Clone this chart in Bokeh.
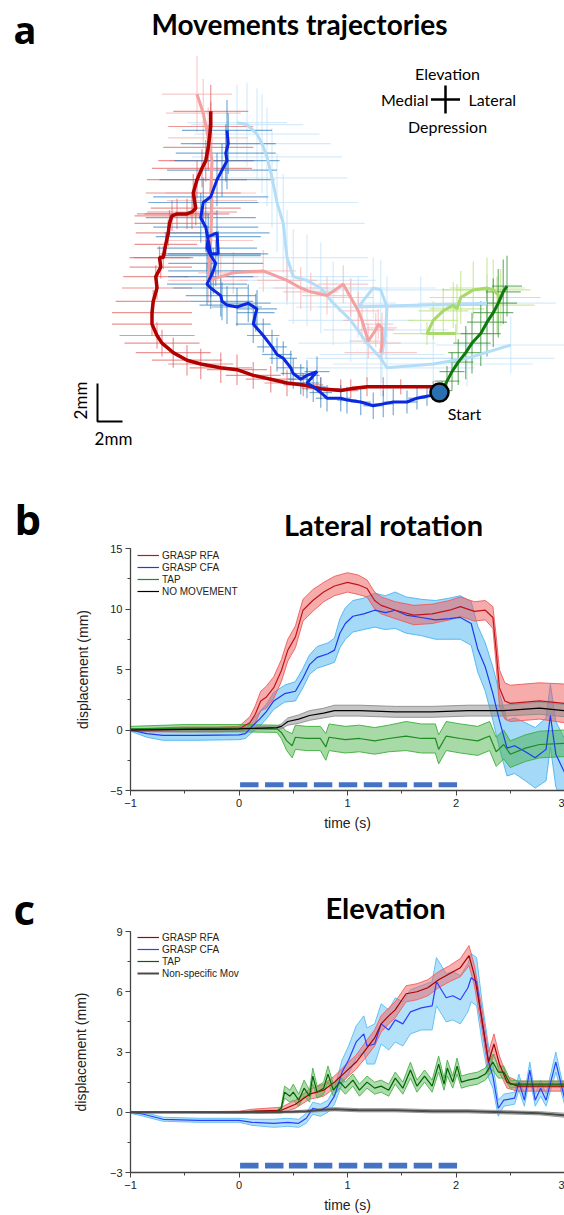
import numpy as np
from math import pi
from bokeh.plotting import figure
from bokeh.models import Label, Legend, LegendItem, SingleIntervalTicker, Range1d
from bokeh.layouts import column
from bokeh.embed import file_html
from bokeh.resources import INLINE

# ================= Panel a : trajectories (mm, origin = start) =================
rfa_dark_x = [-0.5,-3.1,-4.5,-5.8,-7.1,-7.9,-9.5,-10.9,-12.2,-13.5,-14.9,-16.2,-17.5,-19.1,-20.2,-21.3,-22.2,-22.6,-23.0,-23.0,-22.9,-22.6,-22.7,-22.3,-22.4,-22.1,-21.9,-21.7,-21.6,-21.4,-21.0,-20.2,-19.8,-19.5,-19.7,-19.4,-19.0,-18.7,-18.5,-18.3,-18.3]
rfa_dark_y = [0.3,0.3,0.3,0.3,0.2,0.1,0.2,0.4,0.5,0.7,0.9,1.2,1.3,1.5,1.7,2.1,2.6,3.0,3.6,4.2,4.8,5.5,6.1,6.6,7.1,7.1,7.8,8.4,8.9,9.3,9.4,9.4,9.5,9.7,10.5,11.2,11.8,12.2,12.9,14.0,14.8]
rfa_dark_xe = [0.4,0.8,1.0,1.2,1.3,1.4,1.5,1.6,1.8,2.0,2.2,2.4,2.5,2.6,2.8,3.0,3.0,3.0,3.2,3.2,3.0,2.8,2.6,2.5,2.4,2.4,2.5,2.6,2.8,3.0,3.2,3.4,3.6,3.6,3.8,4.0,4.0,3.8,3.6,3.4,3.0]
rfa_dark_ye = [0.3,0.4,0.5,0.5,0.5,0.6,0.6,0.6,0.7,0.7,0.7,0.8,0.8,0.8,0.8,0.8,0.7,0.7,0.6,0.6,0.6,0.6,0.6,0.6,0.6,0.6,0.6,0.7,0.7,0.8,0.8,0.8,0.9,0.9,1.0,1.0,1.0,1.1,1.2,1.3,1.4]

cfa_dark_x = [-0.2,-1.0,-1.8,-2.6,-3.7,-4.5,-5.3,-6.3,-7.4,-7.9,-9.0,-9.5,-10.1,-10.6,-9.8,-10.6,-11.1,-11.7,-11.9,-12.5,-13.0,-13.4,-14.1,-14.9,-14.7,-14.6,-15.3,-16.2,-17.0,-17.4,-17.5,-18.3,-18.6,-18.3,-18.1,-17.9,-18.3,-18.6,-18.5,-17.8,-17.7,-18.3,-18.7,-19.1,-18.9,-18.3,-17.8,-17.4,-17.0,-17.1,-16.9,-17.0]
cfa_dark_y = [-0.1,-0.2,-0.3,-0.5,-0.5,-0.6,-0.7,-0.5,-0.4,-0.3,-0.3,0.0,0.3,0.5,1.1,0.9,0.7,1.0,1.3,1.8,2.0,2.4,3.0,3.6,4.2,4.4,4.7,4.5,4.6,4.8,5.1,5.5,5.7,6.1,6.4,6.8,7.2,7.6,8.2,8.4,7.3,7.3,8.7,9.2,10.0,10.3,11.2,11.7,12.2,12.6,13.1,13.8]
cfa_dark_xe = [0.4,0.6,0.7,0.8,0.8,0.8,0.8,0.8,0.8,0.8,0.9,0.9,1.0,1.0,1.0,1.0,1.0,1.0,1.1,1.1,1.2,1.2,1.3,1.4,1.5,1.6,1.8,2.0,2.2,2.5,2.8,3.0,3.2,3.4,3.6,3.8,4.0,4.0,4.2,4.2,4.0,4.0,4.2,4.4,4.4,4.6,4.6,4.4,4.2,4.0,3.8,3.6]
cfa_dark_ye = [0.4,0.5,0.6,0.6,0.7,0.7,0.7,0.7,0.7,0.7,0.7,0.8,0.8,0.8,0.8,0.8,0.8,0.8,0.9,0.9,0.9,0.9,0.9,1.0,1.0,1.0,1.0,1.0,1.0,1.0,1.1,1.1,1.1,1.1,1.2,1.2,1.2,1.2,1.2,1.2,1.2,1.2,1.3,1.3,1.3,1.4,1.4,1.4,1.5,1.5,1.6,1.6]

rfa_light_x = [-4.7,-4.6,-4.6,-4.9,-5.1,-5.7,-6.2,-6.5,-7.1,-7.7,-9.0,-10.3,-11.1,-12.2,-14.1,-16.5,-17.5,-18.5,-18.3,-18.2,-18.3,-18.2,-18.5,-18.9,-19.4]
rfa_light_y = [2.1,2.6,3.4,3.6,3.3,2.7,3.8,4.3,5.0,5.7,5.1,5.3,5.5,5.9,6.4,6.3,6.1,5.9,8.0,10.1,10.5,12.2,13.4,14.7,15.7]
rfa_light_xe = [2.9,1.5,1.2,1.2,1.5,1.5,1.5,1.6,1.8,2.0,2.0,2.2,2.2,2.4,2.6,2.8,3.0,3.2,3.4,3.6,3.6,3.4,3.2,3.0,2.8]
rfa_light_ye = [0.5,0.8,0.8,0.8,0.9,0.9,1.0,1.0,1.0,1.0,1.0,1.0,1.1,1.1,1.1,1.1,1.2,1.2,1.3,1.3,1.4,1.5,1.6,1.8,2.0]

cfa_light_x = [5.7,2.2,-0.5,-4.2,-4.7,-5.8,-7.1,-8.5,-9.5,-10.6,-11.7,-12.2,-12.5,-13.0,-13.4,-13.8,-14.2,-14.6,-15.4,-16.2]
cfa_light_y = [2.5,1.8,1.5,1.3,1.8,2.6,3.8,4.7,5.5,5.9,6.1,7.1,8.9,10.0,11.3,12.4,13.1,13.6,14.1,14.2]
cfa_light_xe = [6.0,7.0,8.0,7.0,6.0,5.5,5.0,5.0,5.0,5.5,6.0,6.5,6.5,6.5,6.0,6.0,5.5,5.0,4.5,4.0]
cfa_light_ye = [1.5,1.5,1.8,1.8,2.0,2.0,2.2,2.2,2.4,2.4,2.5,2.5,2.6,2.6,2.6,2.6,2.6,2.4,2.2,2.0]
cfa_light2_x = [-4.6,-4.3,-4.2,-4.7,-5.3,-6.5,-1.5,3.8]
cfa_light2_y = [2.0,3.3,4.5,5.4,5.5,4.5,4.6,4.7]
cfa_light2_xe = [5.0,5.0,5.5,5.5,5.0,5.0,5.0,5.5]
cfa_light2_ye = [1.5,1.5,1.6,1.6,1.6,1.6,1.5,1.5]

tap_light_x = [1.3,-1.0,-0.5,0.3,1.1,1.4,1.7,2.7,3.8,4.3,4.9,4.6]
tap_light_y = [3.1,3.1,3.8,4.3,4.6,4.4,5.0,5.4,5.5,5.4,5.0,4.6]
tap_light_xe = [2.8,2.7,2.0,2.0,2.2,2.2,2.5,2.5,3.0,3.0,3.2,3.0]
tap_light_ye = [0.5,0.6,1.0,1.2,1.2,1.3,1.4,1.5,1.6,1.6,1.5,1.5]

tap_dark_x = [0.2,0.6,1.0,1.5,2.1,2.6,3.3,3.8,4.3,4.7,5.1,5.4]
tap_dark_y = [0.1,0.6,1.1,1.6,2.1,2.6,3.1,3.7,4.2,4.7,5.3,5.6]
tap_dark_xe = [0.8,1.0,1.0,1.2,1.4,1.5,1.6,1.6,1.6,1.5,1.4,1.2]
tap_dark_ye = [0.5,0.8,1.0,1.2,1.4,1.6,1.7,1.8,1.8,1.8,1.7,1.6]

scale_bar_mm = 2.0

# ================= Panel b : lateral rotation =================
b_rfa_t = [-1.0,-0.8,-0.5,-0.2,0.0,0.1,0.15,0.2,0.25,0.32,0.39,0.45,0.52,0.59,0.68,0.78,0.88,1.0,1.1,1.18,1.25,1.31,1.44,1.61,1.78,1.94,2.04,2.17,2.27,2.34,2.37,2.40,2.45,2.5,2.77,3.0]
b_rfa_m = [0.0,0.0,0.05,0.05,0.1,0.6,1.3,2.4,2.7,3.5,4.9,6.6,7.7,9.9,10.7,11.4,11.9,12.2,12.0,11.7,10.7,10.3,9.9,9.5,9.6,9.9,10.2,9.8,9.9,9.3,6.6,3.5,2.4,2.2,2.4,2.2]
b_rfa_e = [0.1,0.15,0.2,0.2,0.2,0.5,0.7,0.8,0.9,0.9,0.9,0.9,0.9,0.9,0.9,0.8,0.8,0.8,0.8,0.7,0.7,0.7,0.7,0.8,0.8,0.8,0.8,0.8,0.8,0.9,1.2,1.5,1.5,1.5,1.5,1.6]

b_cfa_t = [-1.0,-0.85,-0.7,-0.4,0.0,0.06,0.12,0.19,0.25,0.32,0.42,0.52,0.59,0.65,0.72,0.82,0.88,0.93,0.98,1.05,1.15,1.25,1.35,1.44,1.54,1.68,1.81,1.94,2.04,2.14,2.20,2.27,2.34,2.40,2.47,2.54,2.64,2.73,2.83,2.87,2.92,3.0]
b_cfa_m = [0.0,-0.3,-0.45,-0.45,-0.4,-0.3,0.3,0.9,1.5,2.4,3.0,3.2,4.3,5.4,6.0,6.3,6.6,8.0,8.8,9.4,9.6,9.9,9.7,9.9,9.5,9.3,9.1,9.2,9.3,8.8,6.7,5.2,3.0,0.8,-1.5,-1.3,-1.8,-2.3,-1.6,1.2,-2.0,-3.5]
b_cfa_e = [0.1,0.3,0.4,0.4,0.4,0.4,0.5,0.6,0.6,0.7,0.7,0.8,0.8,0.8,0.9,0.9,1.0,1.2,1.3,1.3,1.3,1.4,1.4,1.5,1.5,1.5,1.6,1.7,1.8,1.8,1.9,2.0,2.2,2.3,2.3,2.3,2.4,2.5,2.6,2.6,2.7,2.8]

b_tap_t = [-1.0,-0.5,0.0,0.35,0.39,0.44,0.49,0.52,0.62,0.75,0.80,0.83,0.98,1.11,1.25,1.38,1.54,1.68,1.81,1.84,1.91,2.04,2.20,2.31,2.37,2.44,2.50,2.64,2.77,3.0]
b_tap_m = [0.1,0.15,0.15,0.1,-0.2,-0.9,-1.3,-0.6,-0.7,-0.7,-1.4,-0.6,-0.8,-0.7,-0.9,-0.7,-0.5,-0.7,-0.7,-1.6,-0.5,-0.7,-0.9,-0.5,-1.8,-1.2,-2.0,-1.5,-1.2,-1.1]
b_tap_e = [0.2,0.3,0.3,0.3,0.5,0.8,1.0,1.0,1.0,1.0,1.1,1.1,1.1,1.1,1.1,1.1,1.2,1.2,1.2,1.2,1.2,1.2,1.2,1.2,1.2,1.2,1.1,1.1,1.1,1.1]

b_nm_t = [-1.0,-0.5,0.0,0.35,0.39,0.45,0.55,0.65,0.78,0.88,1.11,1.44,1.78,2.11,2.44,2.77,3.0]
b_nm_m = [0.0,0.05,0.1,0.2,0.3,0.7,0.9,1.2,1.4,1.6,1.6,1.5,1.5,1.6,1.6,1.8,1.6]
b_nm_e = [0.05,0.1,0.1,0.15,0.2,0.3,0.35,0.4,0.4,0.45,0.45,0.45,0.45,0.45,0.45,0.5,0.5]

# ================= Panel c : elevation =================
c_rfa_t = [-1.0,-0.5,0.0,0.12,0.39,0.52,0.65,0.78,0.88,0.98,1.08,1.18,1.25,1.31,1.38,1.44,1.54,1.64,1.74,1.84,1.94,2.04,2.12,2.17,2.24,2.30,2.35,2.40,2.47,2.57,3.0]
c_rfa_m = [0.0,0.0,0.0,0.05,0.1,0.4,0.9,1.1,1.5,2.0,2.5,3.2,3.7,4.4,4.8,5.1,5.9,6.0,6.2,6.6,6.9,7.2,7.8,6.8,4.6,2.5,3.4,2.4,1.5,1.3,1.3]
c_rfa_e = [0.02,0.02,0.05,0.1,0.15,0.2,0.25,0.3,0.3,0.35,0.35,0.4,0.4,0.4,0.4,0.4,0.4,0.4,0.4,0.4,0.4,0.45,0.5,0.5,0.5,0.5,0.5,0.4,0.3,0.25,0.25]

c_cfa_t = [-1.0,-0.88,-0.7,-0.37,0.0,0.12,0.32,0.45,0.55,0.62,0.68,0.75,0.82,0.88,0.95,1.01,1.08,1.15,1.18,1.25,1.31,1.38,1.44,1.51,1.58,1.68,1.78,1.82,1.91,1.97,2.04,2.11,2.14,2.19,2.24,2.30,2.34,2.39,2.44,2.54,2.58,2.63,2.68,2.73,2.78,2.83,2.92,3.0]
c_cfa_m = [0.0,-0.1,-0.35,-0.4,-0.4,-0.5,-0.55,-0.5,-0.55,-0.3,0.2,0.1,0.3,0.8,2.0,2.6,3.5,3.9,3.3,3.4,4.4,4.1,4.6,4.4,5.0,5.2,5.3,6.5,5.7,5.8,5.6,6.2,6.7,6.5,4.5,2.5,1.8,0.2,0.6,0.7,1.5,0.6,2.1,0.6,1.2,0.6,2.5,0.7]
c_cfa_e = [0.05,0.1,0.1,0.1,0.1,0.15,0.2,0.2,0.2,0.25,0.3,0.3,0.3,0.4,0.6,0.7,0.8,0.9,0.9,1.0,1.0,1.0,1.1,1.1,1.1,1.1,1.2,1.2,1.2,1.2,1.2,1.2,1.2,1.2,1.0,0.8,0.6,0.4,0.3,0.3,0.4,0.3,0.4,0.3,0.4,0.3,0.5,0.3]

c_tap_t = [-1.0,-0.5,0.0,0.35,0.39,0.42,0.47,0.5,0.55,0.6,0.65,0.68,0.72,0.78,0.82,0.87,0.93,0.98,1.05,1.11,1.18,1.25,1.31,1.38,1.44,1.51,1.58,1.64,1.71,1.78,1.84,1.89,1.92,1.97,2.01,2.05,2.11,2.2,2.27,2.34,2.39,2.44,2.5,2.6,3.0]
c_tap_m = [0.0,0.0,0.0,0.05,0.2,1.0,0.8,1.0,0.6,1.2,0.8,1.8,1.0,1.2,1.9,1.1,1.5,1.2,1.6,1.1,1.5,1.2,1.3,1.1,1.7,1.2,2.1,1.3,1.8,1.3,2.4,1.4,2.2,1.5,2.3,1.5,1.6,1.7,1.9,2.5,2.0,2.0,1.4,1.4,1.4]
c_tap_e = [0.03,0.03,0.03,0.05,0.1,0.3,0.3,0.4,0.3,0.4,0.3,0.4,0.3,0.3,0.4,0.3,0.3,0.3,0.3,0.3,0.3,0.3,0.3,0.3,0.3,0.3,0.4,0.3,0.3,0.3,0.4,0.3,0.4,0.3,0.4,0.3,0.3,0.3,0.3,0.4,0.3,0.3,0.2,0.15,0.15]

c_ns_t = [-1.0,-0.5,0.0,0.5,0.62,0.78,0.88,1.11,1.44,1.78,2.11,2.44,2.77,3.0]
c_ns_m = [0.0,0.0,0.0,0.02,0.05,0.12,0.15,0.1,0.1,0.05,0.05,0.0,-0.05,-0.15]
c_ns_e = [0.02,0.03,0.04,0.05,0.06,0.08,0.08,0.08,0.08,0.08,0.08,0.08,0.08,0.1]

# stimulation train (s)
stim_start = [0.01,0.24,0.46,0.69,0.92,1.15,1.38,1.61,1.84]
stim_end = [0.18,0.41,0.63,0.86,1.09,1.32,1.55,1.78,2.01]

x_ticks_interval = 1
b_y_interval = 5
c_y_interval = 3

# ======================================================================
W = 564
TITLE_FONT = "Lato"
TICK_FONT = "Liberation Sans"


def add_label(p, x, y, text, size, bold=False, font=TITLE_FONT, align="left",
              baseline="middle", angle=0.0, color="black"):
    p.add_layout(Label(x=x, y=y, x_units="screen", y_units="screen", text=text,
                       text_font=font, text_font_size=f"{size}px",
                       text_font_style="bold" if bold else "normal",
                       text_align=align, text_baseline=baseline, angle=angle,
                       text_color=color))


def blank_fig(height, xr=(0, 1), yr=(0, 1)):
    p = figure(width=W, height=height, x_range=Range1d(*xr), y_range=Range1d(*yr),
               output_backend="svg", toolbar_location=None, x_axis_type=None, y_axis_type=None,
               min_border=0, frame_align=False)
    p.grid.visible = False
    p.outline_line_color = None
    return p


# ---------------- panel a ----------------
HA = 470
pa = blank_fig(HA, (-35.12, 10.0), (-4.105, 20.63))


def err_cross(p, xs, ys, xe, ye, color, alpha):
    x0, x1, y0, y1 = [], [], [], []
    for x, y, ex, ey in zip(xs, ys, xe, ye):
        x0 += [x - ex, x]; x1 += [x + ex, x]
        y0 += [y, y - ey]; y1 += [y, y + ey]
    p.segment(x0=x0, y0=y0, x1=x1, y1=y1, line_color=color, line_alpha=alpha, line_width=1.2)


err_cross(pa, cfa_light_x, cfa_light_y, cfa_light_xe, cfa_light_ye, "#b9def6", 0.6)
err_cross(pa, cfa_light2_x, cfa_light2_y, cfa_light2_xe, cfa_light2_ye, "#b9def6", 0.6)
err_cross(pa, rfa_light_x, rfa_light_y, rfa_light_xe, rfa_light_ye, "#f6b4b4", 0.7)
err_cross(pa, tap_light_x, tap_light_y, tap_light_xe, tap_light_ye, "#b6e07a", 0.7)
err_cross(pa, rfa_dark_x, rfa_dark_y, rfa_dark_xe, rfa_dark_ye, "#e05a5a", 0.65)
err_cross(pa, cfa_dark_x, cfa_dark_y, cfa_dark_xe, cfa_dark_ye, "#2f7fbf", 0.65)
err_cross(pa, tap_dark_x, tap_dark_y, tap_dark_xe, tap_dark_ye, "#2a8a2a", 0.65)

pa.line(cfa_light_x, cfa_light_y, line_color="#b4ddf7", line_width=3)
pa.line(cfa_light2_x, cfa_light2_y, line_color="#b4ddf7", line_width=3)
pa.line(rfa_light_x, rfa_light_y, line_color="#f4a0a0", line_width=3)
pa.line(tap_light_x, tap_light_y, line_color="#a6d86a", line_width=3)
pa.line(rfa_dark_x, rfa_dark_y, line_color="#b00000", line_width=3.5)
pa.line(cfa_dark_x, cfa_dark_y, line_color="#0a28e0", line_width=3)
pa.line(tap_dark_x, tap_dark_y, line_color="#0e7a0e", line_width=3)

pa.scatter([0], [0], size=18, fill_color="#2a6fb0", line_color="black", line_width=2.5)

# compass cross
cx, cy, ax_, ay_ = 0.48, 15.42, 1.16, 0.74
pa.segment(x0=[cx - ax_, cx], y0=[cy, cy - ay_], x1=[cx + ax_, cx], y1=[cy, cy + ay_],
           line_color="black", line_width=2.5)
# scale bar
sbx, sby = -27.36, -1.53
pa.line([sbx, sbx, sbx + scale_bar_mm], [sby + scale_bar_mm, sby, sby], line_color="black", line_width=2)

add_label(pa, 13, HA - 28, "a", 38, bold=True, font="Open Sans")
add_label(pa, 299, HA - 23, "Movements trajectories", 28, bold=True, align="center")
add_label(pa, 447, HA - 73, "Elevation", 16, align="center")
add_label(pa, 428, HA - 99, "Medial", 16, align="right")
add_label(pa, 468, HA - 99, "Lateral", 16, align="left")
add_label(pa, 447, HA - 126, "Depression", 16, align="center")
add_label(pa, 464, HA - 413, "Start", 16, align="center")
add_label(pa, 113, HA - 438, "2mm", 17, align="center")
add_label(pa, 80, HA - 400, "2mm", 17, align="center", angle=pi / 2)


# ---------------- panels b and c ----------------
def make_panel(height, top, bottom, y0, y1, yint, ylabel_standoff, overlap):
    p = figure(width=W, height=height, x_range=Range1d(-1, 3), y_range=Range1d(y0, y1),
               output_backend="svg", toolbar_location=None,
               min_border_left=130, min_border_right=0, min_border_top=top, min_border_bottom=bottom,
               margin=(-overlap, 0, 0, 0))
    p.border_fill_alpha = 0
    p.background_fill_alpha = 0
    p.grid.visible = False
    p.outline_line_color = None
    p.xaxis.ticker = SingleIntervalTicker(interval=x_ticks_interval, num_minor_ticks=2)
    p.yaxis.ticker = SingleIntervalTicker(interval=yint, num_minor_ticks=2)
    for ax in p.axis:
        ax.axis_line_color = "#444444"
        ax.axis_line_width = 1.3
        ax.major_tick_line_color = "#444444"
        ax.minor_tick_line_color = "#444444"
        ax.major_tick_out = 5
        ax.major_tick_in = 0
        ax.minor_tick_out = 3
        ax.minor_tick_in = 0
        ax.major_label_text_font = TICK_FONT
        ax.major_label_text_font_size = "11px"
        ax.major_label_text_color = "#222222"
        ax.axis_label_text_font = TICK_FONT
        ax.axis_label_text_font_size = "14px"
        ax.axis_label_text_font_style = "normal"
        ax.axis_label_text_color = "#222222"
        ax.major_label_standoff = 3
    p.xaxis.axis_label = "time (s)"
    p.xaxis.axis_label_standoff = 5
    p.yaxis.axis_label = "displacement (mm)"
    p.yaxis.axis_label_standoff = ylabel_standoff
    return p


def draw_series(p, series):
    for t, m, e, lc, bc, ba, lw in series:
        t = np.asarray(t); m = np.asarray(m); e = np.asarray(e)
        p.varea(x=t, y1=m - e, y2=m + e, fill_color=bc, fill_alpha=ba)
        p.line(t, m + e, line_color=bc, line_alpha=0.9, line_width=1)
        p.line(t, m - e, line_color=bc, line_alpha=0.9, line_width=1)
    rs = []
    for t, m, e, lc, bc, ba, lw in series:
        rs.append(p.line(t, m, line_color=lc, line_width=lw))
    return rs


def add_legend(p, renderers, labels, frame_h):
    items = [LegendItem(label=l, renderers=[r]) for l, r in zip(labels, renderers)]
    leg = Legend(items=items, location=(7, frame_h - 1 - 12 * len(items)))
    leg.glyph_width = 22
    leg.glyph_height = 12
    leg.label_height = 12
    leg.spacing = 0
    leg.padding = 0
    leg.margin = 0
    leg.label_standoff = 3
    leg.label_text_font = TICK_FONT
    leg.label_text_font_size = "10px"
    leg.label_text_color = "#222222"
    leg.border_line_color = None
    leg.background_fill_alpha = 0
    p.add_layout(leg)


# header b (page y 470..552); panel b overlaps its last 12 px
HB = 82
hb = blank_fig(HB)
add_label(hb, 14, HB - 48, "b", 42, bold=True, font="Open Sans")
add_label(hb, 383, HB - 54, "Lateral rotation", 29, bold=True, align="center")

# panel b  (page y 540 .. 850, frame 548..790)
pb = make_panel(310, 8, 60, -5, 15, b_y_interval, 16, 12)
rb = draw_series(pb, [
    (b_cfa_t, b_cfa_m, b_cfa_e, "#1a3cf0", "#4ab4f2", 0.5, 1.2),
    (b_rfa_t, b_rfa_m, b_rfa_e, "#c0141c", "#f05a5a", 0.5, 1.2),
    (b_tap_t, b_tap_m, b_tap_e, "#1e8c1e", "#3cae3c", 0.45, 1.2),
    (b_nm_t, b_nm_m, b_nm_e, "#000000", "#8c8c8c", 0.5, 1.2),
])
pb.quad(left=stim_start, right=stim_end, bottom=-4.73, top=-4.32, fill_color="#4472c4", line_color=None)
add_legend(pb, [rb[1], rb[0], rb[2], rb[3]], ["GRASP RFA", "GRASP CFA", "TAP", "NO MOVEMENT"], 242)

# header c (page y 850..938); panel c overlaps its last 15 px
HC = 88
hc = blank_fig(HC)
add_label(hc, 13, HC - 58, "c", 42, bold=True, font="Open Sans")
add_label(hc, 385, HC - 57, "Elevation", 29, bold=True, align="center")

# panel c  (page y 923 .. 1215, frame 931..1173)
pc = make_panel(292, 8, 42, -3, 9, c_y_interval, 18, 15)
rc = draw_series(pc, [
    (c_cfa_t, c_cfa_m, c_cfa_e, "#2a40ff", "#58bdf5", 0.45, 1.2),
    (c_rfa_t, c_rfa_m, c_rfa_e, "#a80000", "#f06060", 0.5, 1.2),
    (c_tap_t, c_tap_m, c_tap_e, "#006400", "#4cb04c", 0.45, 1.2),
    (c_ns_t, c_ns_m, c_ns_e, "#4a4a4a", "#909090", 0.5, 2.0),
])
pc.quad(left=stim_start, right=stim_end, bottom=-2.8, top=-2.52, fill_color="#4472c4", line_color=None)
add_legend(pc, [rc[1], rc[0], rc[2], rc[3]], ["GRASP RFA", "GRASP CFA", "TAP", "Non-specific Mov"], 242)

layout = column(pa, hb, pb, hc, pc, spacing=0)
open("out.html", "w").write(file_html(layout, INLINE))
